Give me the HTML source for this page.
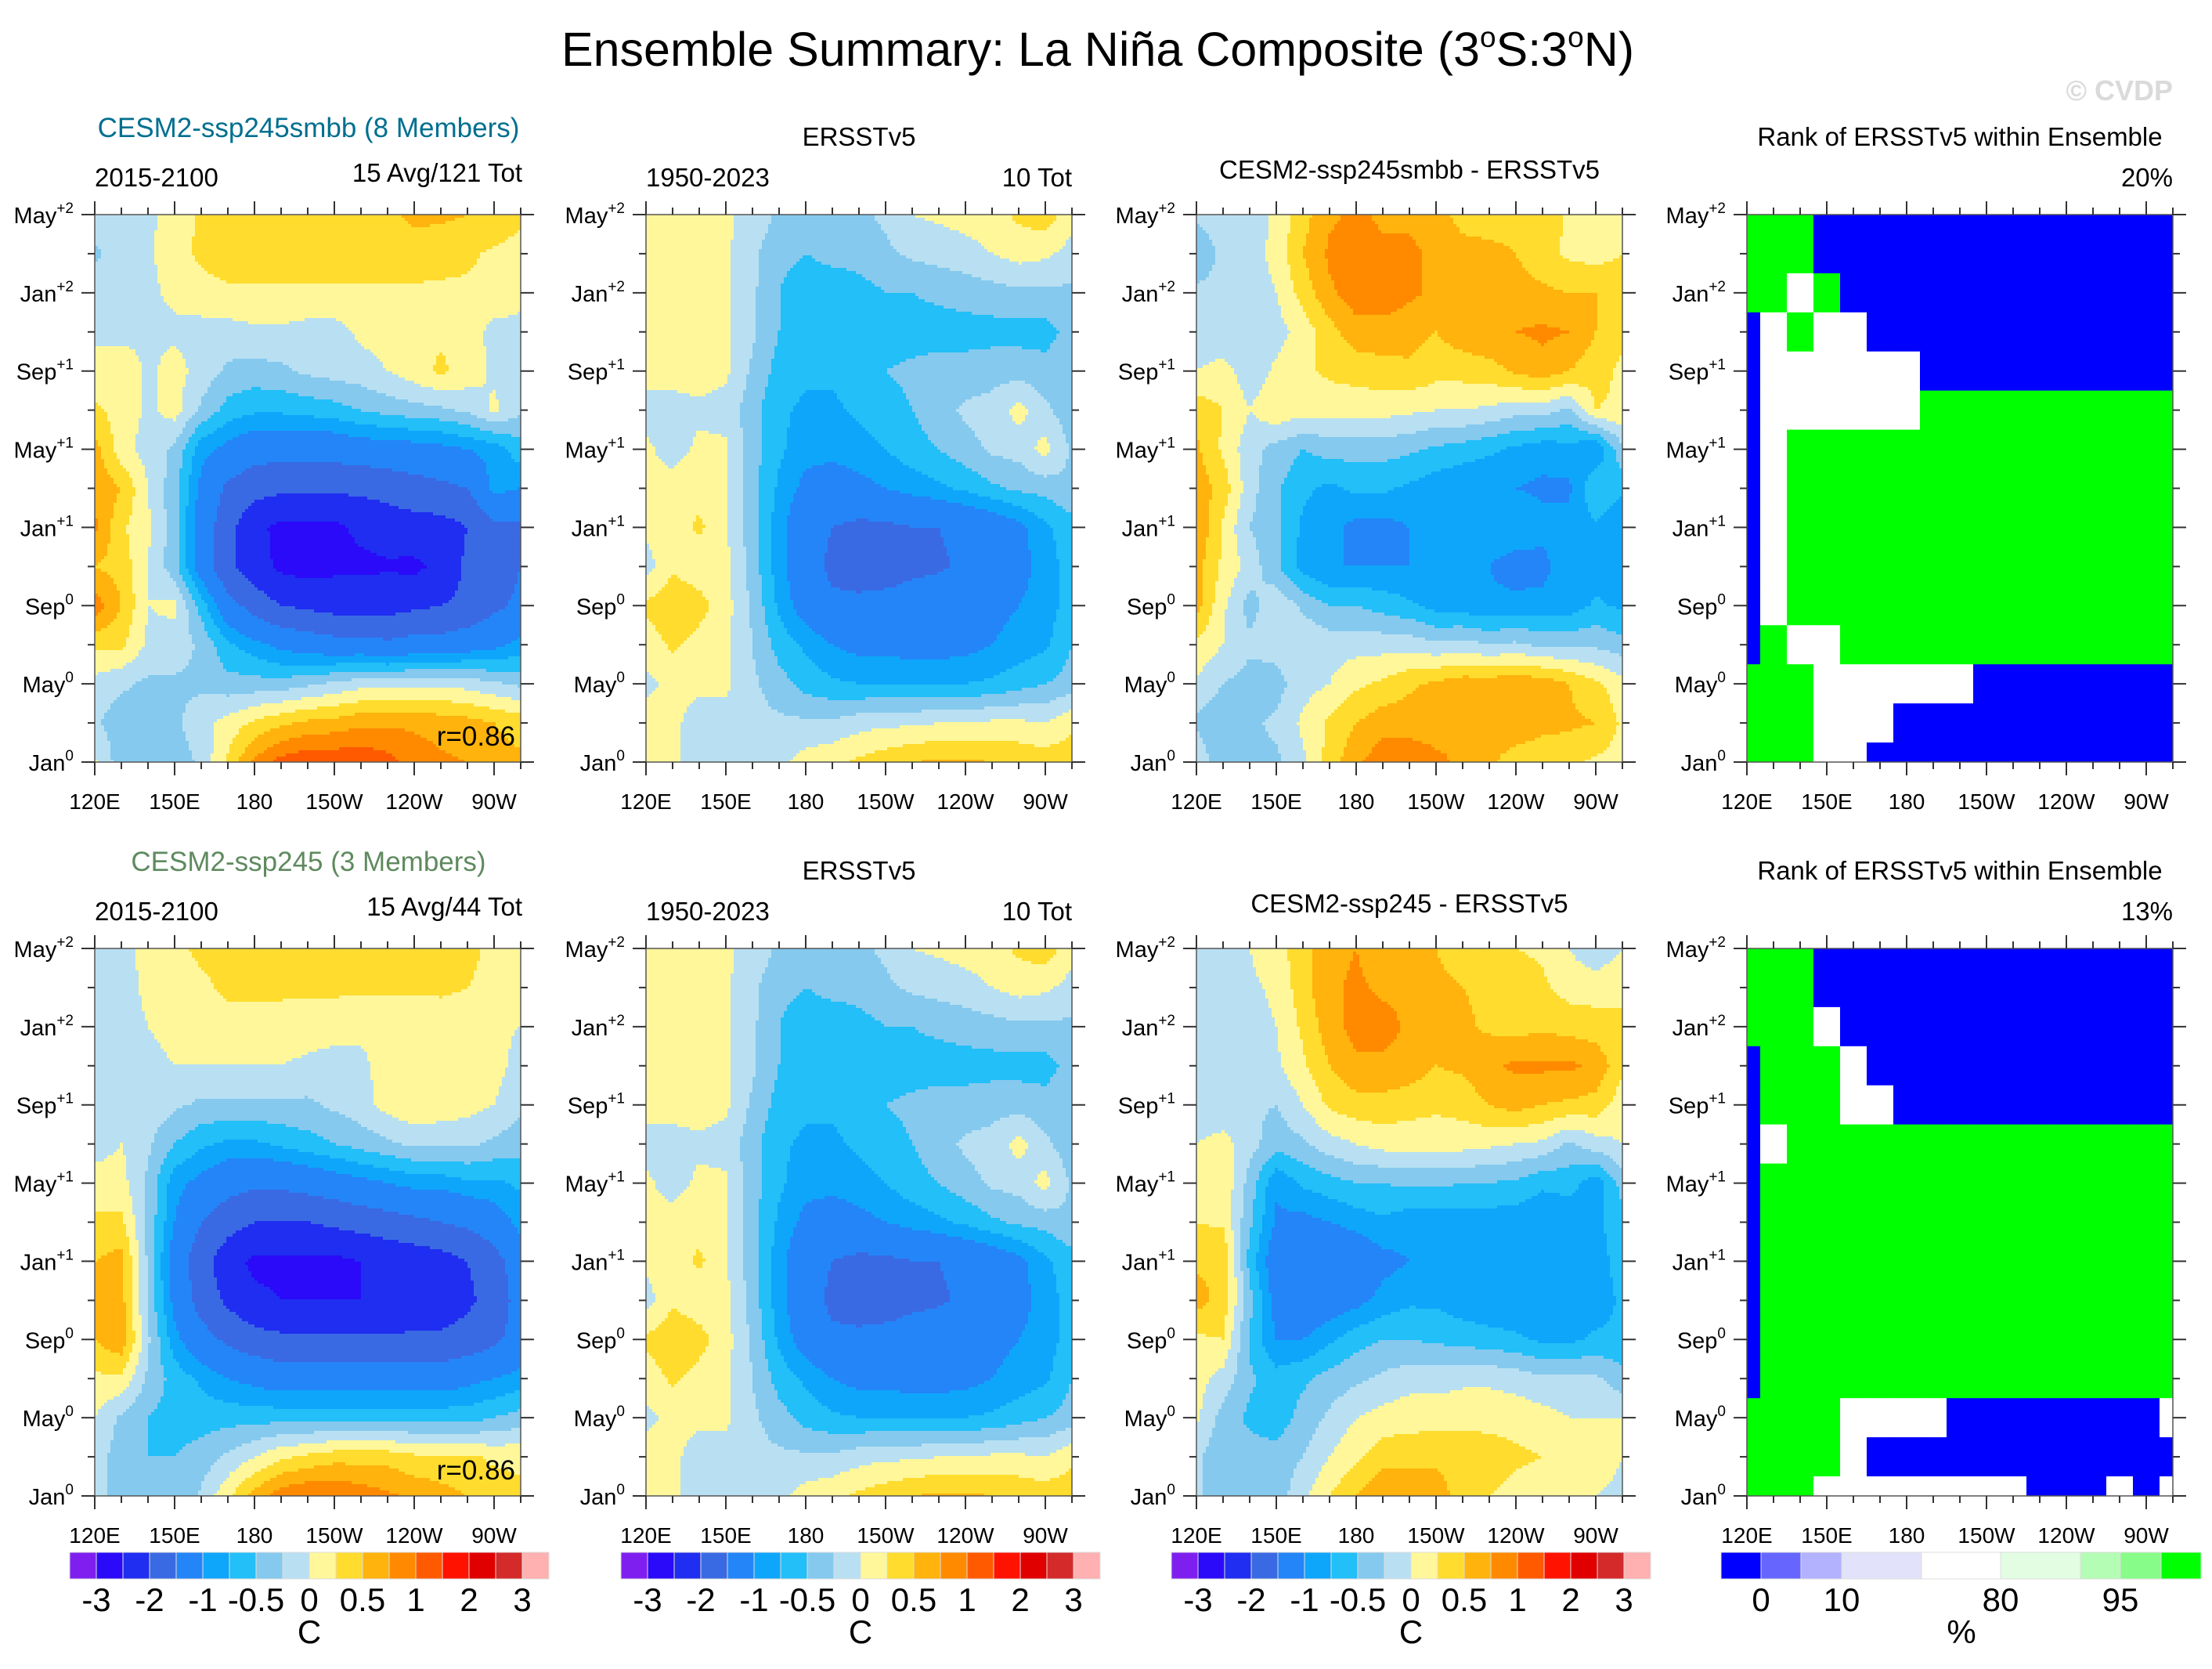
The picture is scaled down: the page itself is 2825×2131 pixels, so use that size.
<!DOCTYPE html>
<html><head><meta charset="utf-8"><title>Ensemble Summary: La Niña Composite</title>
<style>
html,body{margin:0;padding:0;background:#fff;}
svg{display:block;font-family:"Liberation Sans",Arial,sans-serif;}
</style></head>
<body>
<svg id="fig" xmlns="http://www.w3.org/2000/svg" width="2825" height="2131" viewBox="0 0 2825 2131">
<rect x="0" y="0" width="2825" height="2131" fill="#fff"/>
<text x="1402" y="84" font-size="61" text-anchor="middle" fill="#000">Ensemble Summary: La Niña Composite (3<tspan font-size="37" dy="-24">o</tspan><tspan dy="24">S:3</tspan><tspan font-size="37" dy="-24">o</tspan><tspan dy="24">N)</tspan></text>
<text x="2775" y="128" font-size="36" font-weight="bold" text-anchor="end" fill="#dadada">© CVDP</text>

<text x="394" y="175" font-size="35" text-anchor="middle" fill="#006f8f">CESM2-ssp245smbb (8 Members)</text>
<text x="121" y="238" font-size="33" fill="#000">2015-2100</text>
<text x="667" y="232" font-size="33" text-anchor="end" fill="#000">15 Avg/121 Tot</text>
<text x="1097" y="186" font-size="33" text-anchor="middle" fill="#000">ERSSTv5</text>
<text x="825" y="238" font-size="33" fill="#000">1950-2023</text>
<text x="1369" y="238" font-size="33" text-anchor="end" fill="#000">10 Tot</text>
<text x="1800" y="228" font-size="33" text-anchor="middle" fill="#000">CESM2-ssp245smbb - ERSSTv5</text>
<text x="2503" y="186" font-size="33" text-anchor="middle" fill="#000">Rank of ERSSTv5 within Ensemble</text>
<text x="2775" y="238" font-size="33" text-anchor="end" fill="#000">20%</text>

<text x="394" y="1112" font-size="35" text-anchor="middle" fill="#5f8a5f">CESM2-ssp245 (3 Members)</text>
<text x="121" y="1175" font-size="33" fill="#000">2015-2100</text>
<text x="667" y="1169" font-size="33" text-anchor="end" fill="#000">15 Avg/44 Tot</text>
<text x="1097" y="1123" font-size="33" text-anchor="middle" fill="#000">ERSSTv5</text>
<text x="825" y="1175" font-size="33" fill="#000">1950-2023</text>
<text x="1369" y="1175" font-size="33" text-anchor="end" fill="#000">10 Tot</text>
<text x="1800" y="1165" font-size="33" text-anchor="middle" fill="#000">CESM2-ssp245 - ERSSTv5</text>
<text x="2503" y="1123" font-size="33" text-anchor="middle" fill="#000">Rank of ERSSTv5 within Ensemble</text>
<text x="2775" y="1175" font-size="33" text-anchor="end" fill="#000">13%</text>
</svg>
<script>
const LEVELS=[-3,-2.5,-2,-1.5,-1,-0.75,-0.5,-0.25,0,0.25,0.5,0.75,1,1.5,2,2.5,3];
const LEVEL_LABELS=['-3','-2','-1','-0.5','0','0.5','1','2','3'];
const LEVEL_LABEL_IDX=[0,2,4,6,8,10,12,14,16];
const COLORS=['#7f1fef','#2a0af9','#1f2ef0','#3a6ae3','#2485f8','#0ea6fb','#22bff8','#85c9ee','#b8e0f2','#fff79a','#ffdc2e','#ffb30c','#ff8a00','#ff5a00','#ff1200','#e00000','#d42a2a','#ffb0b0'];
const RANK_LEVELS=[1,5,10,50,80,90,95,99];
const RANK_LABELS=['0','10','80','95'];
const RANK_LABEL_IDX=[0,2,4,6];
const RANK_COLORS=['#0000ff','#6666ff','#b2b2ff','#e2e2fa','#ffffff','#e2fde2','#b4fdb4','#88fc88','#00ff00'];
const LONS=[120,130,140,150,160,170,180,190,200,210,220,230,240,250,260,270,280];
const MONTHS=[28,26,24,22,20,18,16,14,12,10,8,6,4,2,0];
const LON_TICKS=[120,150,180,210,240,270];
const LON_TICK_LABELS=['120E','150E','180','150W','120W','90W'];
const MONTH_TICKS=[0,4,8,12,16,20,24,28];
const MONTH_TICK_NAMES=['Jan','May','Sep','Jan','May','Sep','Jan','May'];
const MONTH_TICK_SUPS=['0','0','0','+1','+1','+1','+2','+2'];
const CORR1='r=0.86';
const CORR2='r=0.86';

const model1=[
[-0.1,-0.05,-0.05,0.1,0.3,0.4,0.4,0.4,0.4,0.4,0.4,0.45,0.55,0.55,0.5,0.45,0.3],
[-0.3,-0.1,-0.05,0.15,0.3,0.4,0.4,0.4,0.4,0.4,0.4,0.4,0.4,0.35,0.3,0.2,0.15],
[-0.1,-0.1,-0.05,0.05,0.15,0.2,0.2,0.2,0.2,0.2,0.2,0.2,0.2,0.2,0.2,0.2,0.1],
[-0.05,-0.1,-0.05,-0.05,-0.1,-0.1,-0.05,-0.05,-0.1,-0.1,0.05,0.1,0.15,0.2,0.15,-0.1,-0.1],
[0.1,0.2,-0.05,0.1,-0.1,-0.3,-0.35,-0.3,-0.2,-0.15,-0.1,0.0,0.15,0.3,0.15,-0.05,-0.1],
[0.3,0.15,-0.05,0.1,-0.3,-0.6,-0.7,-0.7,-0.65,-0.6,-0.5,-0.4,-0.35,-0.3,-0.2,0.05,-0.2],
[0.6,0.1,-0.1,-0.3,-0.9,-1.1,-1.3,-1.3,-1.3,-1.3,-1.2,-1.2,-1.15,-1.1,-1.0,-0.9,-0.6],
[0.7,0.5,0.0,-0.4,-1.1,-1.6,-1.8,-1.9,-1.9,-1.9,-1.9,-1.8,-1.7,-1.6,-1.5,-0.9,-1.0],
[0.8,0.3,0.05,-0.4,-1.2,-1.8,-2.4,-2.6,-2.6,-2.6,-2.4,-2.3,-2.2,-2.2,-2.0,-1.6,-1.6],
[0.5,0.4,0.0,-0.4,-1.2,-1.9,-2.3,-2.6,-2.7,-2.6,-2.6,-2.55,-2.6,-2.4,-1.9,-1.8,-1.5],
[0.9,0.5,0.0,0.05,-0.6,-1.3,-1.7,-2.0,-2.1,-2.2,-2.2,-2.2,-2.1,-2.0,-1.9,-1.6,-1.4],
[0.3,0.3,-0.05,-0.1,-0.3,-0.7,-0.9,-1.1,-1.2,-1.3,-1.3,-1.4,-1.3,-1.3,-1.2,-1.1,-0.9],
[-0.1,-0.2,-0.3,-0.3,-0.3,-0.4,-0.4,-0.4,-0.3,-0.2,-0.1,-0.1,-0.05,-0.05,-0.1,-0.2,-0.3],
[-0.2,-0.4,-0.4,-0.3,-0.1,0.1,0.3,0.45,0.55,0.6,0.7,0.7,0.7,0.65,0.6,0.5,0.4],
[0.05,-0.4,-0.4,-0.4,-0.2,0.3,0.8,1.1,1.2,1.2,1.2,1.1,0.9,0.8,0.75,0.6,0.55]
];
const obs=[
[0.1,0.1,0.1,0.05,-0.1,-0.3,-0.4,-0.3,-0.3,-0.2,0.0,0.05,0.1,0.15,0.3,0.4,0.1],
[0.1,0.1,0.1,0.05,-0.2,-0.4,-0.5,-0.4,-0.4,-0.3,-0.2,-0.15,-0.1,0.0,0.1,0.05,-0.1],
[0.1,0.1,0.1,0.05,-0.2,-0.5,-0.7,-0.7,-0.6,-0.5,-0.5,-0.45,-0.4,-0.35,-0.3,-0.3,-0.3],
[0.1,0.1,0.1,0.05,-0.2,-0.5,-0.7,-0.7,-0.7,-0.6,-0.6,-0.6,-0.6,-0.6,-0.6,-0.6,-0.4],
[0.1,0.1,0.1,0.05,-0.3,-0.6,-0.7,-0.7,-0.65,-0.5,-0.45,-0.4,-0.4,-0.35,-0.35,-0.4,-0.3],
[-0.1,-0.1,-0.05,-0.1,-0.4,-0.7,-0.8,-0.8,-0.7,-0.6,-0.5,-0.35,-0.2,-0.15,0.1,-0.2,-0.4],
[0.05,-0.1,0.05,0.05,-0.4,-0.7,-0.9,-0.9,-0.85,-0.75,-0.6,-0.5,-0.35,-0.2,-0.15,0.1,-0.3],
[0.05,0.1,0.15,0.05,-0.4,-0.8,-1.1,-1.2,-1.1,-1.0,-0.9,-0.8,-0.7,-0.55,-0.45,-0.4,-0.3],
[0.05,0.1,0.3,0.05,-0.4,-0.9,-1.3,-1.5,-1.6,-1.6,-1.5,-1.5,-1.4,-1.3,-1.1,-0.8,-0.6],
[-0.1,0.2,0.1,0.05,-0.35,-0.9,-1.3,-1.6,-1.7,-1.7,-1.6,-1.55,-1.45,-1.3,-1.1,-0.9,-0.6],
[0.3,0.45,0.35,0.1,-0.3,-0.8,-1.2,-1.4,-1.4,-1.35,-1.3,-1.25,-1.2,-1.1,-1.0,-0.9,-0.6],
[0.1,0.3,0.15,0.05,-0.25,-0.6,-0.8,-1.0,-1.1,-1.1,-1.15,-1.15,-1.1,-1.0,-0.9,-0.8,-0.5],
[-0.05,0.05,0.05,0.05,-0.2,-0.4,-0.6,-0.7,-0.75,-0.75,-0.75,-0.75,-0.75,-0.7,-0.6,-0.5,-0.4],
[0.1,0.05,-0.1,-0.1,-0.15,-0.2,-0.2,-0.2,-0.1,-0.05,-0.05,0.0,0.0,0.05,0.05,0.0,0.2],
[0.1,0.05,-0.1,-0.1,-0.15,-0.05,0.1,0.2,0.3,0.4,0.5,0.55,0.55,0.5,0.45,0.4,0.4]
];
const model2=[
[-0.1,-0.1,0.1,0.2,0.3,0.35,0.35,0.3,0.3,0.3,0.3,0.3,0.35,0.35,0.3,0.2,0.1],
[-0.1,-0.1,0.05,0.1,0.2,0.3,0.3,0.3,0.3,0.3,0.3,0.3,0.3,0.3,0.25,0.2,0.1],
[-0.1,-0.1,0.0,0.05,0.1,0.15,0.15,0.15,0.1,0.1,0.05,0.0,0.0,0.1,0.1,0.05,0.0],
[-0.1,-0.1,-0.05,0.0,0.0,0.0,0.0,0.0,-0.05,-0.1,-0.05,0.1,0.2,0.2,0.2,0.1,-0.1],
[-0.1,-0.1,-0.1,-0.2,-0.3,-0.3,-0.3,-0.3,-0.3,-0.2,-0.1,0.1,0.2,0.15,0.1,0.0,-0.2],
[-0.1,0.0,-0.2,-0.5,-0.7,-0.8,-0.8,-0.7,-0.6,-0.5,-0.4,-0.3,-0.2,-0.2,-0.2,-0.3,-0.4],
[0.1,0.1,-0.3,-0.9,-1.1,-1.3,-1.4,-1.4,-1.3,-1.2,-1.1,-1.0,-0.9,-0.9,-0.8,-0.8,-0.7],
[0.3,0.3,-0.3,-1.0,-1.5,-1.8,-2.0,-2.0,-2.0,-1.9,-1.8,-1.7,-1.6,-1.5,-1.4,-1.2,-0.9],
[0.5,0.6,-0.3,-1.2,-1.8,-2.3,-2.6,-2.6,-2.6,-2.6,-2.5,-2.4,-2.3,-2.2,-2.0,-1.7,-1.2],
[0.5,0.6,-0.3,-1.1,-1.7,-2.1,-2.4,-2.5,-2.5,-2.5,-2.5,-2.5,-2.4,-2.3,-2.1,-1.8,-1.3],
[0.5,0.7,-0.2,-0.9,-1.3,-1.6,-1.8,-1.9,-1.9,-1.9,-1.9,-1.9,-1.9,-1.9,-1.8,-1.6,-1.3],
[0.2,0.2,-0.3,-0.6,-0.8,-1.0,-1.1,-1.2,-1.2,-1.2,-1.2,-1.2,-1.2,-1.2,-1.1,-1.0,-0.9],
[0.0,-0.3,-0.5,-0.6,-0.6,-0.6,-0.6,-0.6,-0.6,-0.6,-0.6,-0.6,-0.6,-0.6,-0.6,-0.5,-0.4],
[-0.1,-0.4,-0.5,-0.5,-0.4,-0.2,0.0,0.2,0.3,0.4,0.4,0.4,0.3,0.3,0.3,0.2,0.2],
[-0.1,-0.4,-0.5,-0.5,-0.2,0.2,0.6,0.9,1.0,1.0,0.9,0.8,0.7,0.6,0.5,0.4,0.3]
];
const B=0, W=60, G=100;
const rank1=[
[G,G,G,B,B,B,B,B,B,B,B,B,B,B,B,B,B],
[G,G,G,B,B,B,B,B,B,B,B,B,B,B,B,B,B],
[G,G,W,G,B,B,B,B,B,B,B,B,B,B,B,B,B],
[B,W,G,W,W,B,B,B,B,B,B,B,B,B,B,B,B],
[B,W,W,W,W,W,W,B,B,B,B,B,B,B,B,B,B],
[B,W,W,W,W,W,W,G,G,G,G,G,G,G,G,G,G],
[B,W,G,G,G,G,G,G,G,G,G,G,G,G,G,G,G],
[B,W,G,G,G,G,G,G,G,G,G,G,G,G,G,G,G],
[B,W,G,G,G,G,G,G,G,G,G,G,G,G,G,G,G],
[B,W,G,G,G,G,G,G,G,G,G,G,G,G,G,G,G],
[B,W,G,G,G,G,G,G,G,G,G,G,G,G,G,G,G],
[B,G,W,W,G,G,G,G,G,G,G,G,G,G,G,G,G],
[G,G,G,W,W,W,W,W,W,B,B,B,B,B,B,B,B],
[G,G,G,W,W,W,B,B,B,B,B,B,B,B,B,B,B],
[G,G,G,W,W,B,B,B,B,B,B,B,B,B,B,B,B]
];
const rank2=[
[G,G,G,B,B,B,B,B,B,B,B,B,B,B,B,B,B],
[G,G,G,B,B,B,B,B,B,B,B,B,B,B,B,B,B],
[G,G,G,W,B,B,B,B,B,B,B,B,B,B,B,B,B],
[B,G,G,G,W,B,B,B,B,B,B,B,B,B,B,B,B],
[B,G,G,G,W,W,B,B,B,B,B,B,B,B,B,B,B],
[B,W,G,G,G,G,G,G,G,G,G,G,G,G,G,G,G],
[B,G,G,G,G,G,G,G,G,G,G,G,G,G,G,G,G],
[B,G,G,G,G,G,G,G,G,G,G,G,G,G,G,G,G],
[B,G,G,G,G,G,G,G,G,G,G,G,G,G,G,G,G],
[B,G,G,G,G,G,G,G,G,G,G,G,G,G,G,G,G],
[B,G,G,G,G,G,G,G,G,G,G,G,G,G,G,G,G],
[B,G,G,G,G,G,G,G,G,G,G,G,G,G,G,G,G],
[G,G,G,G,W,W,W,W,B,B,B,B,B,B,B,B,W],
[G,G,G,G,W,B,B,B,B,B,B,B,B,B,B,B,B],
[G,G,G,W,W,W,W,W,W,W,W,B,B,B,W,B,W]
];

const NS='http://www.w3.org/2000/svg';
const svg=document.getElementById('fig');
const PX=[121,825,1528,2231], PY=[274,1211], PW=544, PH=699;
function mk(tag,attrs,parent){const e=document.createElementNS(NS,tag);for(const k in attrs)e.setAttribute(k,attrs[k]);(parent||svg).appendChild(e);return e;}
function lonX(x0,lon){return x0+(lon-LONS[0])/(LONS[LONS.length-1]-LONS[0])*PW;}
function monY(y0,m){return y0+(MONTHS[0]-m)/(MONTHS[0]-MONTHS[MONTHS.length-1])*PH;}
function levelColor(v,levels,colors){let i=0;while(i<levels.length&&v>=levels[i])i++;return colors[i];}
function sample(fn,lon,m){
  const nc=LONS.length-1,nr=MONTHS.length-1;
  let c=(lon-LONS[0])/(LONS[nc]-LONS[0])*nc; let r=(MONTHS[0]-m)/(MONTHS[0]-MONTHS[nr])*nr;
  c=Math.max(0,Math.min(nc,c)); r=Math.max(0,Math.min(nr,r));
  const c0=Math.min(Math.floor(c),nc-1), r0=Math.min(Math.floor(r),nr-1), fc=c-c0, fr=r-r0;
  return fn(r0,c0)*(1-fc)*(1-fr)+fn(r0,c0+1)*fc*(1-fr)+fn(r0+1,c0)*(1-fc)*fr+fn(r0+1,c0+1)*fc*fr;
}
function drawField(name,x0,y0,fn){
  const g=mk('g',{});
  
  
  const s=4;
  const xs=[];for(let px=0;px<PW;px+=s)xs.push(px);
  for(let py=0;py<PH;py+=s){
    const h=Math.min(s,PH-py);
    const m=MONTHS[0]-(py+h/2)/PH*(MONTHS[0]-MONTHS[MONTHS.length-1]);
    let runStart=0,runCol=null;
    for(let k=0;k<=xs.length;k++){
      let col=null, px=(k<xs.length)?xs[k]:PW;
      if(k<xs.length){const w=Math.min(s,PW-px);const lon=LONS[0]+(px+w/2)/PW*(LONS[LONS.length-1]-LONS[0]);col=levelColor(sample(fn,lon,m),LEVELS,COLORS);}
      if(col!==runCol){
        if(runCol!==null){
          const wEnd=Math.min(px+0.6,PW)-runStart;
          const r=mk('rect',{x:x0+runStart,y:y0+py,width:wEnd,height:Math.min(h+0.6,PH-py),fill:runCol},g);
          
          
        }
        runStart=px;runCol=col;
      }
    }
  }
}
function drawRank(name,x0,y0,grid){
  const g=mk('g',{});
  
  
  for(let r=0;r<MONTHS.length;r++)for(let c=0;c<LONS.length;c++){
    const xa=Math.max(x0,lonX(x0,LONS[c]-5)), xb=Math.min(x0+PW,lonX(x0,LONS[c]+5));
    const ya=Math.max(y0,monY(y0,MONTHS[r]+1)), yb=Math.min(y0+PH,monY(y0,MONTHS[r]-1));
    const rc=mk('rect',{x:xa,y:ya,width:Math.min(xb-xa+0.6,x0+PW-xa),height:Math.min(yb-ya+0.6,y0+PH-ya),fill:levelColor(grid[r][c],RANK_LEVELS,RANK_COLORS)},g);
    
    
  }
}
function drawAxes(prefix,x0,y0){
  const g=mk('g',{stroke:'#333','stroke-width':2,fill:'none'});
  
  
  const fr=mk('rect',{x:x0,y:y0,width:PW,height:PH,stroke:'#555','stroke-width':1.5},g);
  
  
  for(let lon=LONS[0];lon<=LONS[LONS.length-1];lon+=10){
    const x=lonX(x0,lon), L=(LON_TICKS.indexOf(lon)>=0)?17:9;
    mk('line',{x1:x,y1:y0,x2:x,y2:y0-L},g);
    mk('line',{x1:x,y1:y0+PH,x2:x,y2:y0+PH+L},g);
  }
  for(let m=0;m<=28;m+=2){
    const y=monY(y0,m), L=(MONTH_TICKS.indexOf(m)>=0)?17:9;
    mk('line',{x1:x0,y1:y,x2:x0-L,y2:y},g);
    mk('line',{x1:x0+PW,y1:y,x2:x0+PW+L,y2:y},g);
  }
  LON_TICKS.forEach((lon,i)=>{
    const t=mk('text',{x:lonX(x0,lon),y:y0+PH+60,'font-size':28,'text-anchor':'middle',fill:'#000'});
    t.textContent=LON_TICK_LABELS[i];
    
    
  });
  MONTH_TICKS.forEach((m,i)=>{
    const t=mk('text',{x:x0-27,y:monY(y0,m)+11,'font-size':29,'text-anchor':'end',fill:'#000'});
    const a=mk('tspan',{},t);a.textContent=MONTH_TICK_NAMES[i];
    const b=mk('tspan',{'font-size':19,dy:-13},t);b.textContent=MONTH_TICK_SUPS[i];
    
    
  });
}
function drawColorbar(name,x0,x1,colors,labels,idx,unit){
  const g=mk('g',{});
  
  
  const w=(x1-x0)/colors.length;
  colors.forEach((c,i)=>{
    const r=mk('rect',{x:x0+i*w,y:1982,width:w,height:34,fill:c,stroke:'#ddd','stroke-width':1},g);
    
    
  });
  labels.forEach((l,i)=>{
    const t=mk('text',{x:x0+(idx[i]+1)*w,y:2057,'font-size':42,'text-anchor':'middle',fill:'#000'},g);
    t.textContent=l;
    
    
  });
  const u=mk('text',{x:x0+(x1-x0)/2,y:2098,'font-size':42,'text-anchor':'middle',fill:'#000'},g);
  u.textContent=unit;
  
  
}
function drawRankBar(){
  const g=mk('g',{});
  
  
  const edges=[2198,2249,2300,2352,2454,2555,2657,2708,2760,2811];
  RANK_COLORS.forEach((c,i)=>{
    const r=mk('rect',{x:edges[i],y:1982,width:edges[i+1]-edges[i],height:34,fill:c,stroke:'#ddd','stroke-width':1},g);
    
    
  });
  RANK_LABELS.forEach((l,i)=>{
    const t=mk('text',{x:edges[RANK_LABEL_IDX[i]+1],y:2057,'font-size':42,'text-anchor':'middle',fill:'#000'},g);
    t.textContent=l;
    
    
  });
  const u=mk('text',{x:2505,y:2098,'font-size':42,'text-anchor':'middle',fill:'#000'},g);
  u.textContent='%';
  
  
}
const diff1=(r,c)=>model1[r][c]-obs[r][c];
const diff2=(r,c)=>model2[r][c]-obs[r][c];
drawField('model1-field',PX[0],PY[0],(r,c)=>model1[r][c]);
drawField('obs-field-top',PX[1],PY[0],(r,c)=>obs[r][c]);
drawField('diff1-field',PX[2],PY[0],diff1);
drawRank('rank1-field',PX[3],PY[0],rank1);
drawField('model2-field',PX[0],PY[1],(r,c)=>model2[r][c]);
drawField('obs-field-bottom',PX[1],PY[1],(r,c)=>obs[r][c]);
drawField('diff2-field',PX[2],PY[1],diff2);
drawRank('rank2-field',PX[3],PY[1],rank2);
for(let row=0;row<2;row++)for(let col=0;col<4;col++)drawAxes('panel'+(row*4+col+1),PX[col],PY[row]);
const c1=mk('text',{x:658,y:952,'font-size':35,'text-anchor':'end',fill:'#000'});
c1.textContent=CORR1;


const c2=mk('text',{x:658,y:1889,'font-size':35,'text-anchor':'end',fill:'#000'});
c2.textContent=CORR2;


drawColorbar('colorbar-1',89,701,COLORS,LEVEL_LABELS,LEVEL_LABEL_IDX,'C');
drawColorbar('colorbar-2',793,1405,COLORS,LEVEL_LABELS,LEVEL_LABEL_IDX,'C');
drawColorbar('colorbar-3',1496,2108,COLORS,LEVEL_LABELS,LEVEL_LABEL_IDX,'C');
drawRankBar();
</script>
</body></html>
